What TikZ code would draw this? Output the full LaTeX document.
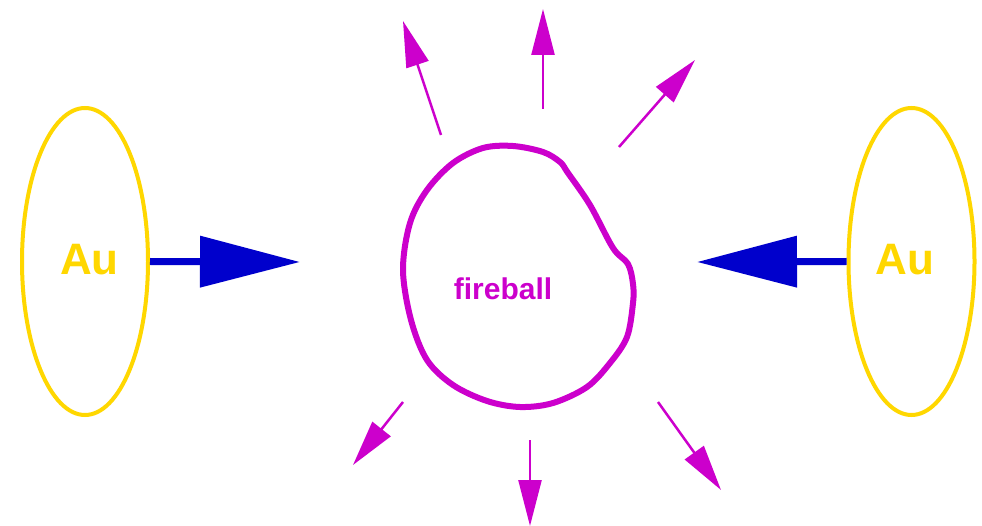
\documentclass[tikz,border=0pt]{standalone}
\usepackage{fontspec}
\setmainfont{Liberation Sans}
\usetikzlibrary{arrows.meta,shapes.geometric}
\definecolor{augold}{HTML}{FFD700}
\definecolor{fmag}{HTML}{CC00CC}
\definecolor{bblue}{HTML}{0000CC}
\tikzset{
  nucleus/.style={draw=augold, line width=4pt, ellipse, minimum width=126pt, minimum height=307pt, inner sep=0pt},
  autext/.style={text=augold, font=\fontsize{44}{44}\selectfont\bfseries, inner sep=0pt, anchor=base},
  beam/.style={draw=bblue, line width=7pt, -{Triangle[length=100pt,width=50pt]}, bblue},
  flow/.style={draw=fmag, line width=2.5pt, -{Triangle[length=46pt,width=23pt]}, fmag},
}
\begin{document}
\begin{tikzpicture}[x=1pt,y=-1pt]
\useasboundingbox[fill=white] (0,0) rectangle (982,526);
% nuclei
\node[nucleus] (L) at (85,261.5) {};
\node[nucleus] (R) at (911.5,261.5) {};
\node[autext] (Lt) at (89.5,275) {Au};
\node[autext] (Rt) at (905,275) {Au};
% beams
\coordinate (Ltip) at (300,262);
\coordinate (Rtip) at (697,262);
\draw[beam] (L.east) -- (Ltip);
\draw[beam] (R.west) -- (Rtip);
% fireball
\draw[fmag, line width=6pt] plot[smooth cycle, tension=0.55] coordinates {
 (513,146) (543,152) (560,162) (568,173) (590,205) (613,248) (628,264)
 (633,284) (633,303) (627,337) (610,363) (587,387) (553,403) (520,407)
 (487,401) (453,385) (427,360) (411,320) (403,270) (410,223) (427,190)
 (453,163) (483,148)};
\node[text=fmag, font=\fontsize{30}{30}\selectfont\bfseries, inner sep=0pt, anchor=base] (fb) at (503,300) {fireball};
% flow arrows
\coordinate (a1s) at (441,135); \coordinate (a1e) at (403,21);
\coordinate (a2s) at (543,109); \coordinate (a2e) at (543,9);
\coordinate (a3s) at (619,147); \coordinate (a3e) at (695,60);
\coordinate (a4s) at (403,402); \coordinate (a4e) at (353,465);
\coordinate (a5s) at (530,440); \coordinate (a5e) at (530,526);
\coordinate (a6s) at (658,402); \coordinate (a6e) at (721,490);
\draw[flow] (a1s) -- (a1e);
\draw[flow] (a2s) -- (a2e);
\draw[flow] (a3s) -- (a3e);
\draw[flow] (a4s) -- (a4e);
\draw[flow] (a5s) -- (a5e);
\draw[flow] (a6s) -- (a6e);
\end{tikzpicture}
\end{document}
